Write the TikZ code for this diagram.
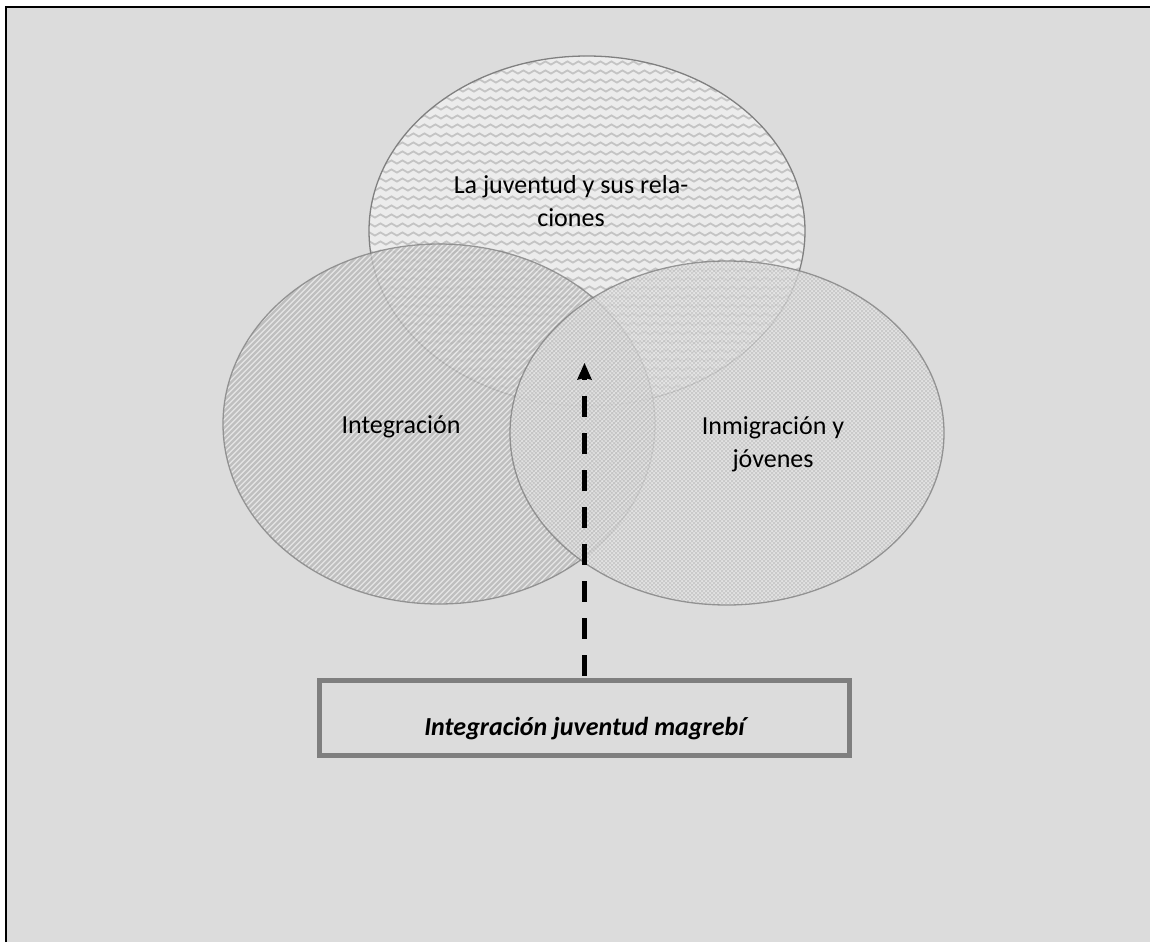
\documentclass[tikz,border=0pt]{standalone}
\usepackage{fontspec}
\setmainfont{Carlito}
\usetikzlibrary{arrows.meta,decorations.pathmorphing}

\definecolor{pagebg}{RGB}{220,220,220}
\definecolor{rimgray}{RGB}{128,128,128}
\definecolor{waveback}{RGB}{236,236,236}
\definecolor{waveink}{RGB}{196,196,196}
\definecolor{stripeback}{RGB}{232,232,232}
\definecolor{stripeink}{RGB}{184,184,184}
\definecolor{checkback}{RGB}{228,228,228}
\definecolor{checkink}{RGB}{198,198,198}
\definecolor{boxrim}{RGB}{127,127,127}

\tikzset{
  labeltext/.style={font=\fontsize{26}{33}\selectfont, align=center, inner sep=0pt, text=black},
  rim/.style={draw=rimgray, line width=1.3pt},
  goalbox/.style={draw=boxrim, line width=5pt, minimum width=530pt, minimum height=75pt,
    inner sep=0pt, font=\fontsize{26}{33}\selectfont\bfseries\itshape,
    text height=40pt, text depth=6pt},
  flow/.style={line width=5pt, dash pattern=on 21pt off 16pt, dash phase=19pt,
    {Stealth[length=17pt,width=15pt,inset=2pt,line width=0pt]}-},
}

\begin{document}
\begin{tikzpicture}[x=1pt,y=-1pt]
\useasboundingbox (0,0) rectangle (1150,942);

% page and frame
\fill[white] (0,0) rectangle (1150,942);
\fill[pagebg] (6,7) rectangle (1150,942);
\draw[black, line width=2pt] (6,942) -- (6,7) -- (1150,7);

% upper circle: wavy texture
\begin{scope}
  \clip (587,231) ellipse [x radius=218, y radius=175];
  \fill[waveback] (360,50) rectangle (810,410);
  \foreach \r in {0,...,40}
    \draw[waveink, line width=1.8pt, decorate,
          decoration={snake, segment length=11pt, amplitude=1.6pt}]
      (355,54+9*\r) -- (820,54+9*\r);
\end{scope}
\draw[rim] (587,231) ellipse [x radius=218, y radius=175];

% left circle: diagonal stripes
\begin{scope}[transparency group, opacity=0.8]
  \begin{scope}
    \clip (439,424) ellipse [x radius=216, y radius=180];
    \fill[stripeback] (220,240) rectangle (660,610);
    \foreach \k in {0,...,160}
      \draw[stripeink, line width=2.2pt] (-205+5.5*\k,615) -- ++(420,-420);
  \end{scope}
  \draw[rim] (439,424) ellipse [x radius=216, y radius=180];
\end{scope}

% right circle: fine checker texture
\begin{scope}[transparency group, opacity=0.8]
  \begin{scope}
    \clip (727,433) ellipse [x radius=217, y radius=172];
    \fill[checkback] (505,255) rectangle (950,610);
    \foreach \r in {0,...,175} {
      \pgfmathtruncatemacro\ph{mod(\r,2)*2}
      \draw[checkink, line width=2pt, dash pattern=on 2pt off 2pt, dash phase=\ph pt]
        (505,259+2*\r) -- (950,259+2*\r);
    }
  \end{scope}
  \draw[rim] (727,433) ellipse [x radius=217, y radius=172];
\end{scope}

% circle labels
\node[labeltext] (youth) at (571,201) {La juventud y sus rela-\\ciones};
\node[labeltext] (integ) at (401,427) {Integración};
\node[labeltext] (immig) at (773,444) {Inmigración y\\jóvenes};

% target box and arrow
\node[goalbox] (goal) at (584.5,718) {Integración juventud magrebí};
\coordinate (tip) at (584.5,363);
\draw[flow] (tip) -- (goal.north);

\end{tikzpicture}
\end{document}
